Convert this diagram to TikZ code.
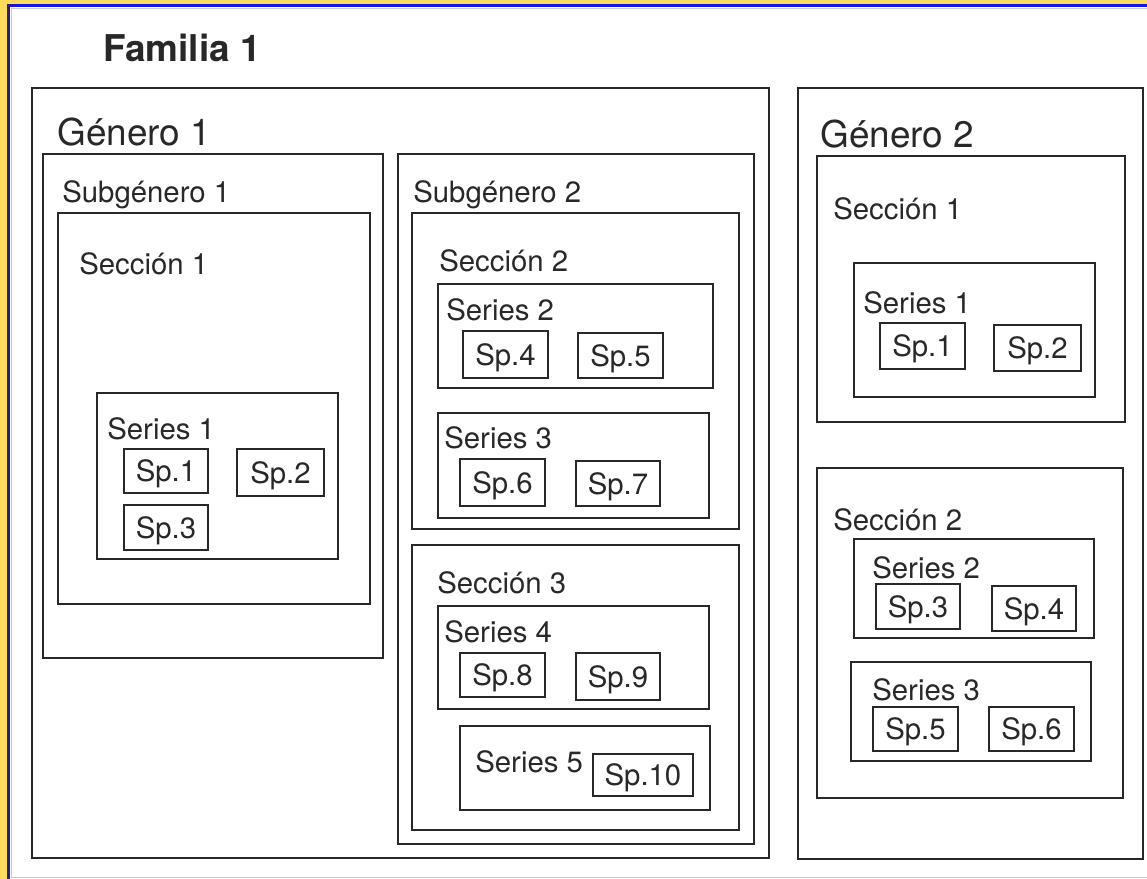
\documentclass[tikz,border=0pt]{standalone}
\usepackage{fontspec}
\setmainfont{TeX Gyre Heros}
\usepackage{tikz}
\usetikzlibrary{positioning}

\definecolor{slideblue}{RGB}{20,20,230}
\definecolor{slideyellow}{RGB}{255,220,95}
\definecolor{inkgray}{RGB}{40,40,40}

\tikzset{
	grp/.style={rectangle, draw=inkgray, line width=1.1pt, anchor=north west, inner sep=0pt},
	spbox/.style={grp, text=inkgray, text depth=0pt, font=\fontsize{16.7}{18}\selectfont},
	lbl/.style={anchor=base west, inner sep=0pt, text=inkgray, font=\fontsize{16.7}{18}\selectfont},
	biglbl/.style={lbl, font=\fontsize{21}{24}\selectfont},
}

\begin{document}
\begin{tikzpicture}[x=0.02cm, y=-0.02cm]

\useasboundingbox (0,0) rectangle (1147,879);
%\draw[step=50, gray, very thin, dotted] (0,0) grid (1147,879);

% slide background
\fill[white] (0,0) rectangle (1147,879);
\fill[slideyellow] (0,0) rectangle (7,879);
\fill[slideyellow] (0,0) rectangle (1147,4);
\fill[slideblue] (7,4) rectangle (10,879);
\fill[slideblue] (7,4) rectangle (1147,7);
\draw[black!20, line width=0.4pt] (1147,8.5) -- (11.5,8.5) -- (11.5,877) -- (1147,877);

\node at (103,61) [biglbl, font=\bfseries\fontsize{21}{24}\selectfont] (familia) {Familia 1};

% Genero 1
\node at (31,87) [grp, minimum width=14.74cm, minimum height=15.4cm] (gen1) {};
\node at (57,145) [biglbl] (gen1lbl) {Género 1};

\node at (42,153) [grp, minimum width=6.8cm, minimum height=10.08cm] (sub1) {};
\node at (62,202) [lbl] (sub1lbl) {Subgénero 1};
\node at (57,212) [grp, minimum width=6.24cm, minimum height=7.82cm] (sec1) {};
\node at (79,274) [lbl] (sec1lbl) {Sección 1};
\node at (96,392) [grp, minimum width=4.82cm, minimum height=3.32cm] (ser1) {};
\node at (107,439) [lbl] (ser1lbl) {Series 1};
\node at (123,448) [spbox, minimum width=1.68cm, minimum height=0.88cm] (sp1) {Sp.1};
\node at (236,448) [spbox, minimum width=1.74cm, minimum height=0.94cm] (sp2) {Sp.2};
\node at (123,504) [spbox, minimum width=1.68cm, minimum height=0.9cm] (sp3) {Sp.3};

\node at (397,153) [grp, minimum width=7.12cm, minimum height=13.8cm] (sub2) {};
\node at (413,202) [lbl] (sub2lbl) {Subgénero 2};
\node at (411,212) [grp, minimum width=6.54cm, minimum height=6.32cm] (sec2) {};
\node at (439,271) [lbl] (sec2lbl) {Sección 2};
\node at (437,283) [grp, minimum width=5.5cm, minimum height=2.08cm] (ser2) {};
\node at (446,320) [lbl] (ser2lbl) {Series 2};
\node at (462,330) [spbox, minimum width=1.7cm, minimum height=0.94cm] (sp4) {Sp.4};
\node at (577,332) [spbox, minimum width=1.7cm, minimum height=0.9cm] (sp5) {Sp.5};
\node at (437,412) [grp, minimum width=5.42cm, minimum height=2.1cm] (ser3) {};
\node at (444,448) [lbl] (ser3lbl) {Series 3};
\node at (459,458) [spbox, minimum width=1.7cm, minimum height=0.94cm] (sp6) {Sp.6};
\node at (575,460) [spbox, minimum width=1.68cm, minimum height=0.9cm] (sp7) {Sp.7};

\node at (411,544) [grp, minimum width=6.54cm, minimum height=5.7cm] (sec3) {};
\node at (437,593) [lbl] (sec3lbl) {Sección 3};
\node at (437,605) [grp, minimum width=5.42cm, minimum height=2.06cm] (ser4) {};
\node at (444,642) [lbl] (ser4lbl) {Series 4};
\node at (459,652) [spbox, minimum width=1.7cm, minimum height=0.88cm] (sp8) {Sp.8};
\node at (575,652) [spbox, minimum width=1.68cm, minimum height=0.94cm] (sp9) {Sp.9};
\node at (459,725) [grp, minimum width=5.0cm, minimum height=1.68cm] (ser5) {};
\node at (475,772) [lbl] (ser5lbl) {Series 5};
\node at (592,753) [spbox, minimum width=2.0cm, minimum height=0.84cm] (sp10) {Sp.10};

% Genero 2
\node at (797,87) [grp, minimum width=6.9cm, minimum height=15.42cm] (gen2) {};
\node at (820,147) [biglbl] (gen2lbl) {Género 2};

\node at (816,155) [grp, minimum width=6.16cm, minimum height=5.32cm] (gsec1) {};
\node at (833,219) [lbl] (gsec1lbl) {Sección 1};
\node at (853,262) [grp, minimum width=4.82cm, minimum height=2.68cm] (gser1) {};
\node at (863,313) [lbl] (gser1lbl) {Series 1};
\node at (879,322) [spbox, minimum width=1.7cm, minimum height=0.92cm] (gsp1) {Sp.1};
\node at (993,324) [spbox, minimum width=1.74cm, minimum height=0.92cm] (gsp2) {Sp.2};

\node at (816,467) [grp, minimum width=6.12cm, minimum height=6.6cm] (gsec2) {};
\node at (833,530) [lbl] (gsec2lbl) {Sección 2};
\node at (853,538) [grp, minimum width=4.8cm, minimum height=1.98cm] (gser2) {};
\node at (872,578) [lbl] (gser2lbl) {Series 2};
\node at (875,583) [spbox, minimum width=1.68cm, minimum height=0.9cm] (gsp3) {Sp.3};
\node at (991,585) [spbox, minimum width=1.68cm, minimum height=0.9cm] (gsp4) {Sp.4};
\node at (850,661) [grp, minimum width=4.8cm, minimum height=1.98cm] (gser3) {};
\node at (872,700) [lbl] (gser3lbl) {Series 3};
\node at (872,706) [spbox, minimum width=1.7cm, minimum height=0.88cm] (gsp5) {Sp.5};
\node at (988,706) [spbox, minimum width=1.7cm, minimum height=0.88cm] (gsp6) {Sp.6};

\end{tikzpicture}
\end{document}
